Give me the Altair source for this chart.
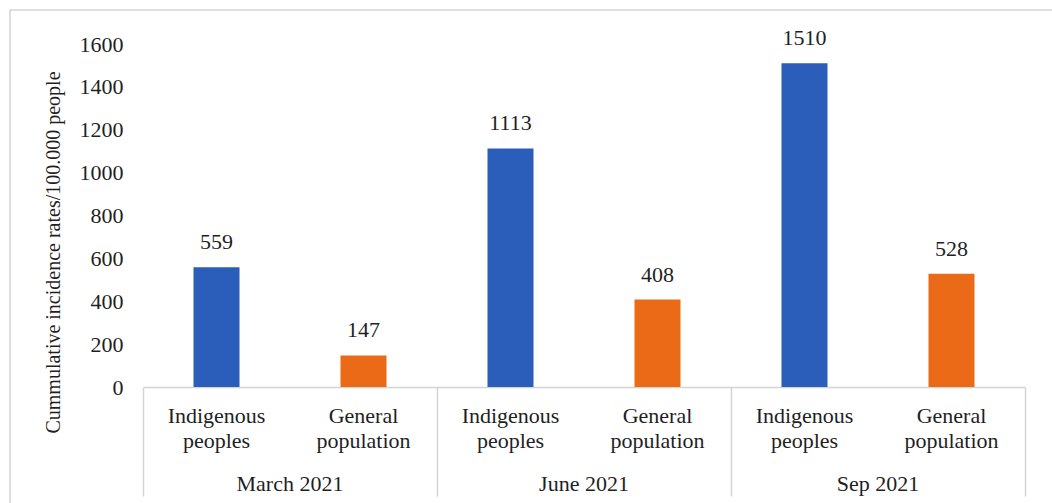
import altair as alt
import pandas as pd

months = ["March 2021", "March 2021", "June 2021", "June 2021", "Sep 2021", "Sep 2021"]
groups = ["Indigenous peoples", "General population"] * 3
values = [559, 147, 1113, 408, 1510, 528]
group_labels = ["Indigenous\npeoples", "General\npopulation"] * 3
month_order = ["March 2021", "June 2021", "Sep 2021"]
group_order = ["Indigenous peoples", "General population"]
y_ticks = [0, 200, 400, 600, 800, 1000, 1200, 1400, 1600]

df = pd.DataFrame({"month": months, "group": groups, "value": values, "glabel": group_labels})
mdf = pd.DataFrame({"month": month_order})

W, H = 882, 343
FONT = "Liberation Serif, Times New Roman, serif"
TXT = "#1f1f1f"
GRAY = "#d4d4d4"

xenc = alt.X("month:N", sort=month_order,
             scale=alt.Scale(paddingInner=0, paddingOuter=0),
             axis=alt.Axis(title=None, labels=False, ticks=True, tickBand="extent",
                           tickSize=109, tickColor=GRAY, tickWidth=1.5,
                           domainColor=GRAY, domainWidth=1.5, grid=False))
xoff = alt.XOffset("group:N", sort=group_order,
                   scale=alt.Scale(paddingInner=0.687, paddingOuter=0.3435))

base = alt.Chart(df)

bars = base.mark_bar().encode(
    x=xenc,
    xOffset=xoff,
    y=alt.Y("value:Q", scale=alt.Scale(domain=[0, 1600], nice=False),
            axis=alt.Axis(values=y_ticks, format="d", domain=False, ticks=False, grid=False,
                          labelFont=FONT, labelFontSize=22, labelColor=TXT, labelPadding=20,
                          title="Cummulative incidence rates/100.000 people",
                          titleFont=FONT, titleFontSize=20, titleFontWeight="normal",
                          titleColor=TXT, titleAngle=270, titleX=-90, titleY=208,
                          titleAlign="center", titleBaseline="middle")),
    color=alt.Color("group:N", sort=group_order,
                    scale=alt.Scale(domain=group_order, range=["#2B5DBA", "#EB6A17"]),
                    legend=None),
)

vlabels = base.mark_text(font=FONT, fontSize=22, color=TXT, baseline="bottom", dy=-13).encode(
    x=alt.X("month:N", sort=month_order),
    xOffset=xoff,
    y="value:Q",
    text="value:Q",
)

glabels = base.mark_text(font=FONT, fontSize=22, color=TXT, baseline="alphabetic",
                         lineBreak="\n", lineHeight=25).encode(
    x=alt.X("month:N", sort=month_order),
    xOffset=xoff,
    y=alt.value(H + 36),
    text="glabel:N",
)

mlabels = alt.Chart(mdf).mark_text(font=FONT, fontSize=22, color=TXT, baseline="alphabetic").encode(
    x=alt.X("month:N", sort=month_order),
    y=alt.value(H + 104),
    text="month:N",
)

border = alt.Chart(pd.DataFrame({"a": [0]})).mark_rect(
    fill=None, stroke=GRAY, strokeWidth=1.5
).encode(
    x=alt.value(-133), x2=alt.value(W + 60),
    y=alt.value(-34), y2=alt.value(H + 130),
)

chart = alt.layer(border, bars, vlabels, glabels, mlabels).properties(
    width=W, height=H,
    autosize=alt.AutoSizeParams(type="none"),
    padding={"left": 143, "top": 44, "right": 27, "bottom": 116},
    background="white",
).configure(font=FONT).configure_view(stroke=None).configure_text(font=FONT)

chart.save("out.html", embed_options={"renderer": "svg", "actions": False})
